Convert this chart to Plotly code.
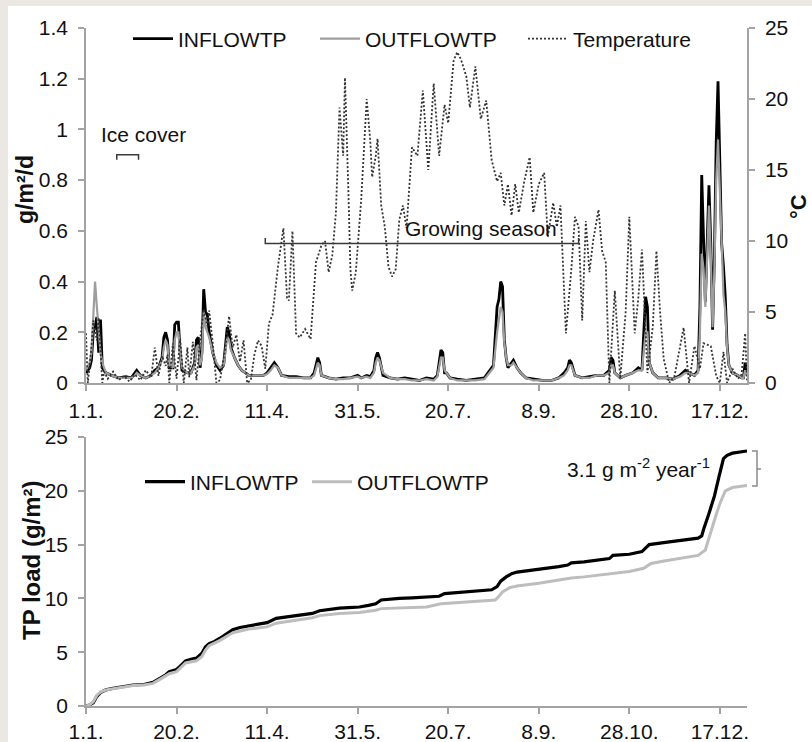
import plotly.graph_objects as go

FONT = "Arial, Liberation Sans, sans-serif"
TXT = "#111111"
AX = "#a3a3a3"

# ---- x axis (day of year) ----
tick_days = [0, 50, 100, 150, 200, 250, 300, 350]
tick_labels = ["1.1.", "20.2.", "11.4.", "31.5.", "20.7.", "8.9.", "28.10.", "17.12."]

# ---- top panel: daily TP load (g/m2/d) ----
inflow_days = [0, 2, 3, 4, 5, 6, 7, 8, 9, 11, 14, 18, 22, 25, 27, 28, 30, 33, 36, 38, 40, 42, 43, 44, 45, 46, 48,
               49, 50, 51, 52, 53, 56, 58, 60, 61, 62, 63, 64, 65, 66, 67, 68, 70, 72, 74, 76, 78, 79, 80, 82, 84,
               86, 88, 90, 94, 98, 100, 102, 104, 106, 108, 112, 116, 120, 124, 126, 128, 129, 130, 134, 138, 142,
               146, 150, 152, 155, 157, 159, 160, 161, 162, 164, 168, 172, 176, 180, 184, 188, 192, 194, 196, 197,
               198, 199, 201, 205, 210, 215, 220, 223, 225, 227, 228, 229, 230, 231, 232, 233, 235, 236, 238, 240,
               243, 247, 252, 257, 261, 264, 266, 267, 268, 270, 274, 278, 282, 286, 289, 290, 291, 292, 295, 298,
               302, 305, 307, 308, 309, 310, 311, 313, 316, 320, 324, 328, 331, 333, 336, 338, 339, 340, 341, 342,
               343, 344, 345, 346, 347, 348, 349, 350, 351, 352, 353, 354, 355, 357, 360, 362, 363, 364, 365]
inflow_vals = [0.04, 0.06, 0.09, 0.2, 0.22, 0.26, 0.12, 0.25, 0.06, 0.04, 0.03, 0.02, 0.025, 0.02, 0.04, 0.05, 0.03,
               0.02, 0.03, 0.05, 0.06, 0.1, 0.18, 0.2, 0.17, 0.06, 0.06, 0.23, 0.24, 0.24, 0.12, 0.05, 0.04, 0.04,
               0.08, 0.17, 0.18, 0.06, 0.12, 0.37, 0.28, 0.27, 0.2, 0.12, 0.07, 0.05, 0.07, 0.22, 0.2, 0.14, 0.1,
               0.07, 0.05, 0.04, 0.03, 0.03, 0.03, 0.04, 0.06, 0.08, 0.06, 0.03, 0.025, 0.025, 0.02, 0.02, 0.04,
               0.1, 0.08, 0.03, 0.02, 0.015, 0.02, 0.02, 0.03, 0.02, 0.03, 0.025, 0.05, 0.1, 0.12, 0.1, 0.03, 0.02,
               0.015, 0.02, 0.015, 0.01, 0.02, 0.015, 0.03, 0.13, 0.12, 0.04, 0.04, 0.02, 0.015, 0.01, 0.015, 0.02,
               0.05, 0.07, 0.3, 0.33, 0.4, 0.38, 0.17, 0.1, 0.06, 0.08, 0.09, 0.06, 0.04, 0.02, 0.015, 0.01, 0.01,
               0.02, 0.04, 0.06, 0.09, 0.08, 0.03, 0.02, 0.025, 0.03, 0.03, 0.05, 0.1, 0.09, 0.04, 0.02, 0.03, 0.04,
               0.06, 0.05, 0.2, 0.34, 0.3, 0.08, 0.04, 0.02, 0.02, 0.015, 0.03, 0.05, 0.04, 0.03, 0.05, 0.3, 0.82,
               0.55, 0.32, 0.55, 0.78, 0.55, 0.21, 0.5, 0.95, 1.19, 0.85, 0.55, 0.46, 0.34, 0.15, 0.07, 0.04, 0.03,
               0.02, 0.02, 0.08, 0.03]

outflow_days = [0, 2, 3, 4, 5, 6, 7, 8, 9, 11, 14, 18, 22, 25, 27, 28, 30, 33, 36, 38, 40, 42, 43, 44, 45, 46, 48,
                49, 50, 51, 52, 53, 56, 58, 60, 61, 62, 63, 64, 65, 66, 67, 68, 70, 72, 74, 76, 78, 79, 80, 82, 84,
                86, 88, 90, 94, 98, 100, 102, 104, 106, 108, 112, 116, 120, 124, 126, 128, 129, 130, 134, 138, 142,
                146, 150, 152, 155, 157, 159, 160, 161, 162, 164, 168, 172, 176, 180, 184, 188, 192, 194, 196, 197,
                198, 199, 201, 205, 210, 215, 220, 223, 225, 227, 228, 229, 230, 231, 232, 233, 235, 236, 238, 240,
                243, 247, 252, 257, 261, 264, 266, 267, 268, 270, 274, 278, 282, 286, 289, 290, 291, 292, 295, 298,
                302, 305, 307, 308, 309, 310, 311, 313, 316, 320, 324, 328, 331, 333, 336, 338, 339, 340, 341, 342,
                343, 344, 345, 346, 347, 348, 349, 350, 351, 352, 353, 354, 355, 357, 360, 362, 363, 364, 365]
outflow_vals = [0.05, 0.08, 0.12, 0.25, 0.4, 0.3, 0.2, 0.12, 0.08, 0.04, 0.03, 0.02, 0.02, 0.02, 0.03, 0.04, 0.03,
                0.02, 0.03, 0.04, 0.06, 0.09, 0.14, 0.17, 0.15, 0.07, 0.06, 0.17, 0.2, 0.2, 0.12, 0.06, 0.04, 0.04,
                0.07, 0.14, 0.15, 0.07, 0.1, 0.28, 0.22, 0.2, 0.18, 0.12, 0.08, 0.06, 0.07, 0.18, 0.17, 0.13, 0.1,
                0.07, 0.05, 0.04, 0.03, 0.03, 0.03, 0.035, 0.05, 0.07, 0.06, 0.03, 0.02, 0.02, 0.02, 0.02, 0.03,
                0.08, 0.07, 0.03, 0.02, 0.015, 0.015, 0.02, 0.025, 0.02, 0.025, 0.02, 0.04, 0.08, 0.1, 0.09, 0.04,
                0.02, 0.015, 0.015, 0.01, 0.01, 0.015, 0.01, 0.025, 0.1, 0.1, 0.05, 0.04, 0.02, 0.01, 0.01, 0.01,
                0.015, 0.04, 0.06, 0.2, 0.25, 0.3, 0.28, 0.16, 0.1, 0.07, 0.07, 0.08, 0.06, 0.04, 0.02, 0.01, 0.01,
                0.01, 0.02, 0.03, 0.05, 0.07, 0.07, 0.03, 0.02, 0.02, 0.03, 0.03, 0.04, 0.07, 0.07, 0.04, 0.02,
                0.03, 0.04, 0.05, 0.05, 0.12, 0.2, 0.2, 0.08, 0.04, 0.02, 0.02, 0.015, 0.025, 0.04, 0.04, 0.03, 0.04,
                0.2, 0.51, 0.45, 0.3, 0.5, 0.7, 0.5, 0.22, 0.45, 0.8, 0.96, 0.75, 0.5, 0.35, 0.28, 0.14, 0.07, 0.04,
                0.03, 0.02, 0.02, 0.05, 0.03]

# ---- top panel: temperature (deg C, right axis) ----
temp_days = [0, 1, 3, 4, 6, 7, 9, 10, 12, 15, 18, 21, 24, 27, 30, 33, 36, 38, 40, 42, 44, 45, 46, 48, 50, 52, 54,
             56, 57, 59, 61, 63, 65, 67, 68, 70, 72, 74, 77, 79, 81, 83, 85, 87, 89, 91, 93, 95, 97, 99, 101, 103,
             106, 109, 111, 112, 114, 116, 118, 121, 124, 127, 130, 132, 134, 136, 138, 140, 142, 143, 145, 146,
             147, 149, 152, 154, 155, 157, 158, 160, 161, 163, 165, 167, 169, 171, 173, 175, 177, 180, 183, 186,
             189, 192, 195, 198, 200, 203, 205, 207, 210, 212, 215, 218, 221, 224, 227, 229, 231, 233, 235, 237,
             239, 242, 245, 247, 250, 253, 255, 258, 260, 262, 265, 268, 270, 272, 274, 276, 278, 280, 283, 285,
             287, 289, 292, 295, 298, 300, 303, 305, 307, 310, 313, 315, 317, 319, 322, 325, 328, 330, 333, 336,
             339, 341, 343, 345, 347, 348, 350, 352, 354, 357, 360, 362, 364, 365]
temp_vals = [3.5, 0, 2.5, 4.4, 3.0, 4.6, 0, 0.8, 0.3, 0.8, 0.2, 0.5, 0.1, 0.6, 0.2, 0.9, 0.4, 2.5, 0.5, 1.9, 1.2,
             2.0, 0, 2.8, 0.3, 3.1, 0, 2.5, 0.4, 2.9, 0.2, 3.0, 5.2, 4.0, 5.1, 2.8, 0, 0.2, 2.5, 4.7, 2.5, 3.4, 1.5,
             3.0, 0, 0.2, 2.0, 3.0, 2.6, 1.0, 4.2, 4.8, 8.2, 10.9, 6.0, 5.8, 10.7, 3.5, 3.2, 3.8, 3.1, 8.5, 9.7,
             10.0, 7.8, 9.0, 12.0, 19.4, 16.0, 21.5, 13.0, 8.0, 6.5, 7.8, 13.0, 17.5, 20.0, 17.0, 14.5, 16.0, 17.2,
             12.5, 11.0, 8.2, 7.5, 8.0, 11.5, 12.5, 10.9, 16.6, 16.0, 20.6, 15.0, 21.1, 16.0, 19.6, 18.3, 22.7,
             23.3, 22.8, 21.6, 19.4, 22.3, 18.6, 19.9, 15.7, 14.2, 14.8, 12.5, 14.0, 11.8, 14.0, 12.0, 14.2, 15.9,
             12.0, 14.0, 14.8, 10.3, 12.7, 11.0, 12.5, 3.5, 8.0, 11.7, 11.0, 4.4, 11.4, 7.8, 10.0, 12.2, 9.3, 8.5,
             0, 6.5, 0.3, 5.0, 11.7, 3.5, 6.0, 9.4, 0.7, 4.0, 9.3, 5.0, 1.7, 0, 0.5, 2.5, 3.9, 0, 2.6, 1.0, 2.8,
             2.7, 2.6, 1.2, 0.5, 0, 2.2, 0, 1.0, 0.3, 0.6, 3.5, 0.2]

# ---- bottom panel: cumulative TP load (g/m2) ----
cum_in_days = [0, 2, 4, 6, 8, 11, 15, 19, 26, 32, 37, 41, 44, 46, 50, 52, 55, 58, 61, 64, 66, 68, 71, 74, 78, 81,
               85, 90, 96, 100, 105, 110, 114, 120, 125, 129, 135, 140, 145, 151, 156, 160, 163, 168, 173, 180,
               188, 195, 198, 205, 215, 224, 227, 229, 232, 235, 238, 246, 255, 261, 266, 268, 275, 282, 289, 291,
               300, 307, 309, 311, 320, 330, 338, 340, 341, 344, 347, 349.5, 352, 354, 357, 365]
cum_in_vals = [0, 0.1, 0.3, 0.9, 1.25, 1.5, 1.65, 1.75, 1.95, 2.0, 2.2, 2.6, 2.9, 3.2, 3.4, 3.7, 4.2, 4.35, 4.45,
               4.9, 5.5, 5.8, 6.0, 6.3, 6.8, 7.1, 7.3, 7.45, 7.6, 7.75, 8.15, 8.25, 8.35, 8.45, 8.6, 8.85, 9.0,
               9.1, 9.15, 9.2, 9.35, 9.5, 9.85, 9.95, 10.0, 10.05, 10.1, 10.2, 10.45, 10.55, 10.65, 10.8, 11.1,
               11.6, 12.0, 12.3, 12.45, 12.6, 12.8, 12.95, 13.1, 13.3, 13.4, 13.55, 13.7, 14.0, 14.1, 14.35, 14.7,
               15.0, 15.2, 15.4, 15.6, 15.8, 16.4, 17.9, 19.5, 21.3, 23.0, 23.3, 23.5, 23.7]

cum_out_days = [0, 2, 4, 6, 8, 11, 15, 19, 26, 32, 37, 41, 44, 46, 50, 52, 55, 61, 64, 66, 68, 74, 81, 90, 100, 105,
                114, 125, 129, 140, 151, 160, 163, 173, 188, 196, 205, 215, 226, 228, 230, 234, 238, 250, 261, 268,
                275, 290, 300, 308, 312, 320, 330, 338, 342, 344, 346, 348, 350, 353, 357, 365]
cum_out_vals = [0, 0.1, 0.4, 1.0, 1.3, 1.5, 1.6, 1.7, 1.9, 1.95, 2.1, 2.5, 2.8, 3.0, 3.2, 3.5, 4.0, 4.2, 4.6, 5.2,
                5.6, 6.1, 6.8, 7.15, 7.35, 7.7, 7.95, 8.2, 8.4, 8.6, 8.7, 8.9, 9.05, 9.1, 9.2, 9.5, 9.6, 9.7, 9.85,
                10.2, 10.6, 11.0, 11.15, 11.4, 11.7, 11.9, 12.0, 12.3, 12.5, 12.8, 13.25, 13.5, 13.75, 14.0, 14.5,
                15.5, 16.7, 17.8, 18.8, 20.0, 20.3, 20.5]

fig = go.Figure()

fig.add_trace(go.Scatter(x=inflow_days, y=inflow_vals, name="INFLOWTP", mode="lines",
                         line=dict(color="#000000", width=2.8), xaxis="x", yaxis="y", legend="legend"))
fig.add_trace(go.Scatter(x=outflow_days, y=outflow_vals, name="OUTFLOWTP", mode="lines",
                         line=dict(color="#9e9e9e", width=2.2), xaxis="x", yaxis="y", legend="legend2"))
fig.add_trace(go.Scatter(x=temp_days, y=temp_vals, name="Temperature", mode="lines",
                         line=dict(color="#333333", width=1.8, dash="2px,2px"), xaxis="x", yaxis="y2",
                         legend="legend3"))
fig.add_trace(go.Scatter(x=cum_in_days, y=cum_in_vals, name="INFLOWTP", mode="lines",
                         line=dict(color="#000000", width=3.2), xaxis="x2", yaxis="y3", legend="legend4"))
fig.add_trace(go.Scatter(x=cum_out_days, y=cum_out_vals, name="OUTFLOWTP", mode="lines",
                         line=dict(color="#bdbdbd", width=3), xaxis="x2", yaxis="y3", legend="legend5"))

tickfont = dict(family=FONT, size=21, color=TXT)
axis_common = dict(showline=True, linecolor=AX, linewidth=1.5, ticks="outside", ticklen=6, tickcolor=AX,
                   tickwidth=1.5, showgrid=False, zeroline=False, tickfont=tickfont, automargin=False)

def leg(x, y):
    return dict(x=x, y=y, xanchor="left", yanchor="middle", orientation="h", bgcolor="rgba(0,0,0,0)",
                borderwidth=0, itemwidth=40, font=dict(family=FONT, size=21, color=TXT))

W, H = 812, 742
L, R, T, B = 86, 65, 28, 36
pw, ph = W - L - R, H - T - B

def px(xp):
    return (xp - L) / pw

def py(yp):
    return (H - B - yp) / ph

fig.update_layout(
    width=W, height=H, margin=dict(l=L, r=R, t=T, b=B, autoexpand=False),
    paper_bgcolor="white", plot_bgcolor="white",
    font=dict(family=FONT, size=21, color=TXT),
    showlegend=True,
    xaxis=dict(domain=[0, 1], anchor="y", range=[0, 365], tickvals=tick_days, ticktext=tick_labels,
               ticklabelstandoff=2, **axis_common),
    yaxis=dict(domain=[py(383), 1], anchor="x", range=[0, 1.4], dtick=0.2, ticklabelstandoff=6, **axis_common),
    yaxis2=dict(overlaying="y", side="right", anchor="x", range=[0, 25], dtick=5, ticklabelstandoff=6,
                **axis_common),
    xaxis2=dict(domain=[0, 1], anchor="y3", range=[0, 365], tickvals=tick_days, ticktext=tick_labels,
                ticklabelstandoff=0, **axis_common),
    yaxis3=dict(domain=[0, py(437)], anchor="x2", range=[0, 25], dtick=5, ticklabelstandoff=6, **axis_common),
    legend=leg(px(128), py(39)),
    legend2=leg(px(315), py(39)),
    legend3=leg(px(523), py(39)),
    legend4=leg(px(140), py(482)),
    legend5=leg(px(307), py(482)),
)

line_dark = dict(color="#3a3a3a", width=1.5)
shapes = [
    # page border strips
    dict(type="rect", xref="paper", yref="paper", x0=px(-10), x1=px(8), y0=py(760), y1=py(-10),
         fillcolor="#ebe7e3", line=dict(width=0), layer="above"),
    dict(type="rect", xref="paper", yref="paper", x0=px(-10), x1=px(830), y0=py(6), y1=py(-10),
         fillcolor="#ebe7e3", line=dict(width=0), layer="above"),
    # ice cover bracket
    dict(type="path", xref="x", yref="y", path="M17,0.88 L17,0.9 L29,0.9 L29,0.88", line=line_dark),
    # growing season bracket
    dict(type="path", xref="x", yref="y", path="M99,0.572 L99,0.55 L272,0.55 L272,0.572", line=line_dark),
    # difference bracket at right of bottom panel
    dict(type="path", xref="paper", yref="paper",
         path=f"M{px(752)},{py(451)} L{px(757)},{py(451)} L{px(757)},{py(486)} L{px(752)},{py(486)} "
              f"M{px(757)},{py(469)} L{px(761)},{py(469)}",
         line=dict(color="#8a8a8a", width=1.5)),
]
fig.update_layout(shapes=shapes)

annotations = [
    dict(text="Ice cover", x=32, y=0.98, xref="x", yref="y", showarrow=False, xanchor="center",
         yanchor="middle", font=dict(size=21)),
    dict(text="Growing season", x=218, y=0.61, xref="x", yref="y", showarrow=False, xanchor="center",
         yanchor="middle", font=dict(size=21)),
    dict(text="3.1 g m<sup>-2</sup> year<sup>-1</sup>", x=px(638), y=py(468), xref="paper", yref="paper",
         showarrow=False, xanchor="center", yanchor="middle", font=dict(size=21)),
    dict(text="<b>g/m²/d</b>", x=px(25), y=py(190), xref="paper", yref="paper", showarrow=False,
         textangle=-90, xanchor="center", yanchor="middle", font=dict(size=23)),
    dict(text="<b>°C</b>", x=px(798), y=py(207), xref="paper", yref="paper", showarrow=False,
         textangle=-90, xanchor="center", yanchor="middle", font=dict(size=22)),
    dict(text="<b>TP load (g/m²)</b>", x=px(31), y=py(560), xref="paper", yref="paper", showarrow=False,
         textangle=-90, xanchor="center", yanchor="middle", font=dict(size=24)),
]
fig.update_layout(annotations=annotations)

fig.write_html("out.html")
